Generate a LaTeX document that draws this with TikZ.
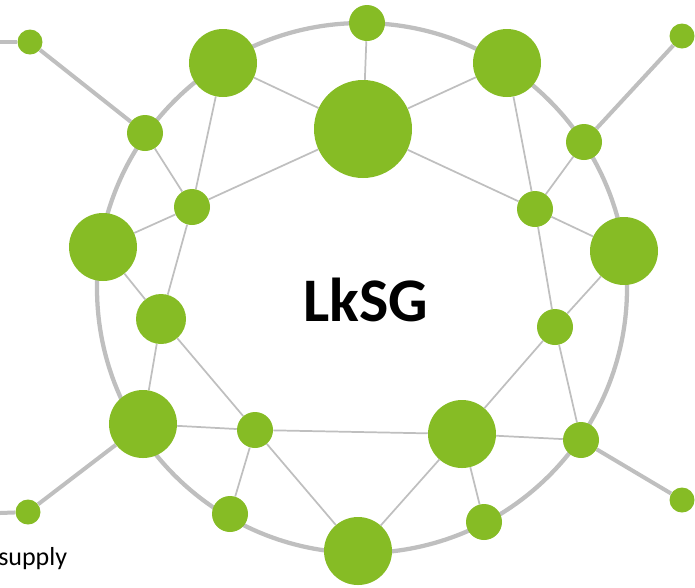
\documentclass[tikz,border=0pt]{standalone}
\usepackage{fontspec}
\setmainfont{Carlito}
\usetikzlibrary{backgrounds}
\definecolor{lkgreen}{RGB}{134,188,37}
\definecolor{lkgray}{RGB}{191,191,191}
\begin{document}
\begin{tikzpicture}[x=0.75pt,y=-0.75pt,
  dot/.style={circle,fill=lkgreen,inner sep=0pt,minimum size=#1*1.5pt},
  rim/.style={draw=lkgray,line width=3.2pt},
  spoke/.style={draw=lkgray,line width=3pt},
  link/.style={draw=lkgray,line width=1.3pt}]
\path[use as bounding box] (0,0) rectangle (695,587);

% network nodes
\node[dot=12.5] (n1)  at (30,42)   {};
\node[dot=18]   (n2)  at (145,133) {};
\node[dot=34]   (n3)  at (223,63)  {};
\node[dot=18]   (n4)  at (367,23)  {};
\node[dot=49]   (n5)  at (363,129) {};
\node[dot=34]   (n6)  at (507,63)  {};
\node[dot=12.5] (n7)  at (682,36)  {};
\node[dot=18]   (n8)  at (584,142) {};
\node[dot=18]   (n9)  at (535,209) {};
\node[dot=34]   (n10) at (624,251) {};
\node[dot=18]   (n11) at (555,327) {};
\node[dot=18]   (n12) at (581,440) {};
\node[dot=12.5] (n13) at (682,500) {};
\node[dot=34]   (n14) at (462,434) {};
\node[dot=18]   (n15) at (484,522) {};
\node[dot=34]   (n16) at (358,551) {};
\node[dot=18]   (n17) at (230,514) {};
\node[dot=18]   (n18) at (255,430) {};
\node[dot=34]   (n19) at (143,424) {};
\node[dot=12.5] (n20) at (28,512)  {};
\node[dot=25]   (n21) at (161,319) {};
\node[dot=18]   (n22) at (192,207) {};
\node[dot=34]   (n23) at (103,247) {};

\coordinate (hub) at (362,288);
\coordinate (edgeA) at (0,42);
\coordinate (edgeB) at (0,513);

% title
\node[anchor=base,inner sep=0pt,font=\bfseries\fontsize{46.5}{50}\selectfont] (title) at (365.5,321) {LkSG};

% cut-off caption at the lower left
\begin{scope}
  \clip (0,0) rectangle (695,587);
  \node[anchor=base west,inner sep=0pt,font=\fontsize{19.5}{22}\selectfont] (cap) at (-2,565) {supply};
\end{scope}

\begin{pgfonlayer}{background}
  % outer ring
  \draw[rim] (hub) circle[radius=198.75pt];
  % thick spokes leaving the ring
  \draw[spoke] (edgeA) -- (n1);
  \draw[spoke] (n1) -- (n2);
  \draw[spoke] (n8) -- (n7);
  \draw[spoke] (n12) -- (n13);
  \draw[spoke] (n19) -- (n20);
  \draw[spoke] (edgeB) -- (n20);
  % inner mesh
  \draw[link] (n2) -- (n22);
  \draw[link] (n3) -- (n22);
  \draw[link] (n22) -- (n5);
  \draw[link] (n22) -- (n23);
  \draw[link] (n22) -- (n21);
  \draw[link] (n23) -- (n21);
  \draw[link] (n21) -- (n19);
  \draw[link] (n21) -- (n18);
  \draw[link] (n3) -- (n5);
  \draw[link] (n4) -- (n5);
  \draw[link] (n5) -- (n6);
  \draw[link] (n5) -- (n9);
  \draw[link] (n6) -- (n9);
  \draw[link] (n8) -- (n9);
  \draw[link] (n9) -- (n10);
  \draw[link] (n9) -- (n11);
  \draw[link] (n10) -- (n11);
  \draw[link] (n11) -- (n14);
  \draw[link] (n11) -- (n12);
  \draw[link] (n14) -- (n12);
  \draw[link] (n14) -- (n15);
  \draw[link] (n14) -- (n16);
  \draw[link] (n18) -- (n14);
  \draw[link] (n19) -- (n18);
  \draw[link] (n18) -- (n17);
  \draw[link] (n18) -- (n16);
\end{pgfonlayer}
\end{tikzpicture}
\end{document}
